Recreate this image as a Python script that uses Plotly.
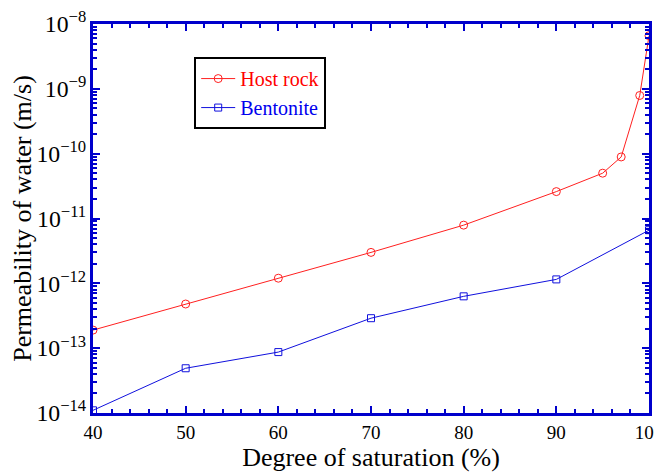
import plotly.graph_objects as go

host_x = [40, 50, 60, 70, 80, 90, 95, 97, 99, 100]
host_y = [1.9e-13, 4.8e-13, 1.2e-12, 3.0e-12, 7.9e-12, 2.6e-11, 5.0e-11, 8.9e-11, 7.9e-10, 6.6e-9]
bent_x = [40, 50, 60, 70, 80, 90, 100]
bent_y = [1.1e-14, 4.9e-14, 8.7e-14, 2.9e-13, 6.3e-13, 1.15e-12, 6.6e-12]

font = "Liberation Serif"
fig = go.Figure()
fig.add_trace(go.Scatter(x=host_x, y=host_y, mode="lines+markers",
                         name="<span style='color:#ff0000'>Host rock</span>",
                         line=dict(color="#ff2020", width=1),
                         marker=dict(symbol="circle-open", size=8, color="#ff2020", line=dict(width=1))))
fig.add_trace(go.Scatter(x=bent_x, y=bent_y, mode="lines+markers",
                         name="<span style='color:#0000ee'>Bentonite</span>",
                         line=dict(color="#1010dd", width=1),
                         marker=dict(symbol="square-open", size=7, color="#1010dd", line=dict(width=1))))

# the page body has an 8px margin, so the figure is drawn 8px right and down
fig.update_layout(
    width=654, height=468,
    margin=dict(l=85, r=13, t=16, b=63),
    paper_bgcolor="white", plot_bgcolor="white",
    font=dict(family=font, size=18, color="black"),
    legend=dict(x=0.182, y=0.915, xanchor="left", yanchor="top",
                bordercolor="black", borderwidth=2, bgcolor="white",
                font=dict(family=font, size=20, color="black"), tracegroupgap=0,
                itemwidth=34),
    xaxis=dict(range=[40, 100], dtick=10, ticks="inside", ticklen=7, tickwidth=1.5,
               tickcolor="#0000cc", showline=True, linecolor="#0000cc", linewidth=3,
               mirror="ticks", showgrid=False, zeroline=False, automargin=False,
               ticklabeloverflow="allow",
               minor=dict(dtick=2, ticks="inside", ticklen=4, tickcolor="#0000cc", tickwidth=1.5),
               title=dict(text="Degree of saturation (%)", font=dict(family=font, size=26, color="black"), standoff=4),
               tickfont=dict(family=font, size=19, color="black")),
    yaxis=dict(type="log", range=[-14, -8], dtick=1, exponentformat="power",
               ticks="inside", ticklen=7, tickwidth=1.5, tickcolor="#0000cc",
               showline=True, linecolor="#0000cc", linewidth=3, mirror="ticks",
               showgrid=False, zeroline=False, automargin=False,
               ticklabeloverflow="allow",
               minor=dict(ticks="inside", ticklen=4, tickcolor="#0000cc", tickwidth=1.5),
               title=dict(text="Permeability of water (m/s)", font=dict(family=font, size=26, color="black"), standoff=4),
               tickfont=dict(family=font, size=19, color="black")),
)
fig.write_html("out.html")
